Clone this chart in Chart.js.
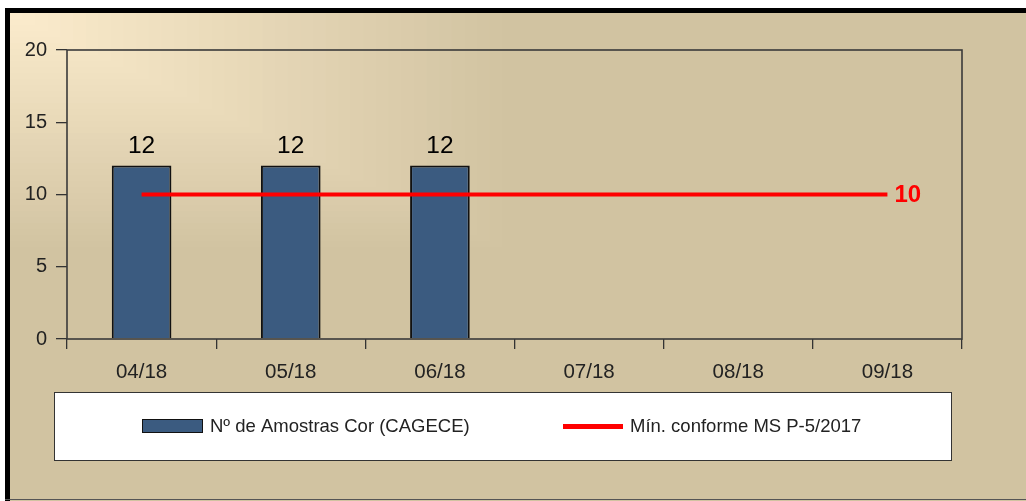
<!DOCTYPE html>
<html>
<head>
<meta charset="utf-8">
<script src="https://cdn.jsdelivr.net/npm/chart.js@4/dist/chart.umd.min.js"></script>
<style>
  html, body { margin: 0; padding: 0; background: #fff; }
  #wrap { width: 1026px; height: 501px; }
</style>
</head>
<body>
<div id="wrap"><canvas id="grafico" width="1026" height="501"></canvas></div>
<script>
// meses
const meses = ["04/18", "05/18", "06/18", "07/18", "08/18", "09/18"];
// nº de amostras
const amostras = [12, 12, 12, null, null, null];
// mínimo exigido
const minimo = [10, 10, 10, 10, 10, 10];
const yTicks = [0, 5, 10, 15, 20];

const fonte = "'Liberation Sans', Arial, sans-serif";

// fundo, moldura e caixa da legenda
const fundoPlugin = {
    id: "fundo",
    beforeDraw(chart) {
        const c = chart.ctx;
        const W = chart.width, H = chart.height;
        c.save();
        c.fillStyle = "#fff";
        c.fillRect(0, 0, W, H);
        c.fillStyle = "#d1c3a1";
        c.fillRect(5, 8, W - 5, H - 8);
        // gradiente a partir do canto
        const passos = 40;
        const c0 = [252, 236, 205], c1 = [209, 195, 161];
        for (let i = passos; i >= 0; i--) {
            const t = i / passos;
            const r = Math.round(c0[0] + (c1[0] - c0[0]) * t);
            const g = Math.round(c0[1] + (c1[1] - c0[1]) * t);
            const b = Math.round(c0[2] + (c1[2] - c0[2]) * t);
            c.fillStyle = `rgb(${r},${g},${b})`;
            c.fillRect(10, 13, 505 * t, 240 * t);
        }
        c.fillStyle = "#000";
        c.fillRect(5, 8, 5, H - 8);
        c.fillRect(5, 8, W - 5, 5);
        c.fillStyle = "#555";
        c.fillRect(5, 499, W - 5, 1);

        // caixa da legenda
        c.fillStyle = "#fff";
        c.fillRect(54, 392, 897, 68);
        c.strokeStyle = "#333";
        c.lineWidth = 1;
        c.strokeRect(54.5, 392.5, 897, 68);
        c.restore();
    },
    afterDraw(chart) {
        const c = chart.ctx;
        const a = chart.chartArea;
        c.save();
        // moldura da área do gráfico
        c.strokeStyle = "#3a3a3a";
        c.lineWidth = 1.6;
        c.strokeRect(a.left, a.top, a.right - a.left, a.bottom - a.top);

        // legenda
        const ds = chart.data.datasets;
        c.font = "18.5px " + fonte;
        c.textBaseline = "middle";
        c.fillStyle = ds[0].backgroundColor;
        c.fillRect(142, 419, 60, 13);
        c.strokeStyle = "#111";
        c.lineWidth = 1;
        c.strokeRect(142.5, 419.5, 60, 13);
        c.fillStyle = "#222";
        c.fillText(ds[0].label, 210, 427);
        c.fillStyle = ds[1].borderColor;
        c.fillRect(563, 424, 60, 5);
        c.fillStyle = "#222";
        c.fillText(ds[1].label, 630, 427);

        // rótulos das barras
        const metaBar = chart.getDatasetMeta(0);
        c.font = "24.5px " + fonte;
        c.fillStyle = "#000";
        c.textAlign = "center";
        c.textBaseline = "bottom";
        metaBar.data.forEach((el, i) => {
            if (amostras[i] == null) return;
            c.fillText(String(amostras[i]), el.x, el.y - 7);
        });

        // rótulo do mínimo no último ponto
        const metaLinha = chart.getDatasetMeta(1);
        const ult = metaLinha.data[metaLinha.data.length - 1];
        c.font = "bold 24px " + fonte;
        c.fillStyle = "#ff0000";
        c.textAlign = "left";
        c.textBaseline = "middle";
        c.fillText(String(minimo[minimo.length - 1]), ult.x + 7, ult.y + 1);
        c.restore();
    }
};

const ctx = document.getElementById("grafico").getContext("2d");
new Chart(ctx, {
    type: "bar",
    data: {
        labels: meses,
        datasets: [
            {
                label: "Nº de Amostras Cor (CAGECE)",
                data: amostras,
                backgroundColor: "#3b5b80",
                borderColor: "#111",
                borderWidth: 2,
                barPercentage: 0.4,
                categoryPercentage: 1,
                order: 2
            },
            {
                type: "line",
                label: "Mín. conforme MS P-5/2017",
                data: minimo,
                borderColor: "#ff0000",
                borderWidth: 4,
                pointRadius: 0,
                fill: false,
                order: 1
            }
        ]
    },
    options: {
        responsive: false,
        animation: false,
        devicePixelRatio: 1,
        layout: { padding: { left: 10, top: 50, right: 64, bottom: 120 } },
        plugins: {
            legend: { display: false },
            tooltip: { enabled: false }
        },
        scales: {
            x: {
                offset: true,
                grid: {
                    offset: true,
                    drawOnChartArea: false,
                    drawTicks: true,
                    tickLength: 10,
                    color: "#333",
                    lineWidth: 1.3
                },
                border: { display: false },
                ticks: {
                    color: "#222",
                    font: { family: fonte, size: 20.5 },
                    padding: 11,
                    maxRotation: 0
                },
                afterFit(scale) { scale.height = 42; }
            },
            y: {
                min: 0,
                max: 20,
                afterBuildTicks(scale) { scale.ticks = yTicks.map(v => ({ value: v })); },
                grid: {
                    drawOnChartArea: false,
                    drawTicks: true,
                    tickLength: 11,
                    color: "#333",
                    lineWidth: 1.3
                },
                border: { display: false },
                ticks: {
                    color: "#222",
                    font: { family: fonte, size: 20 },
                    padding: 9
                },
                afterFit(scale) { scale.width = 57; }
            }
        }
    },
    plugins: [fundoPlugin]
});
</script>
</body>
</html>
